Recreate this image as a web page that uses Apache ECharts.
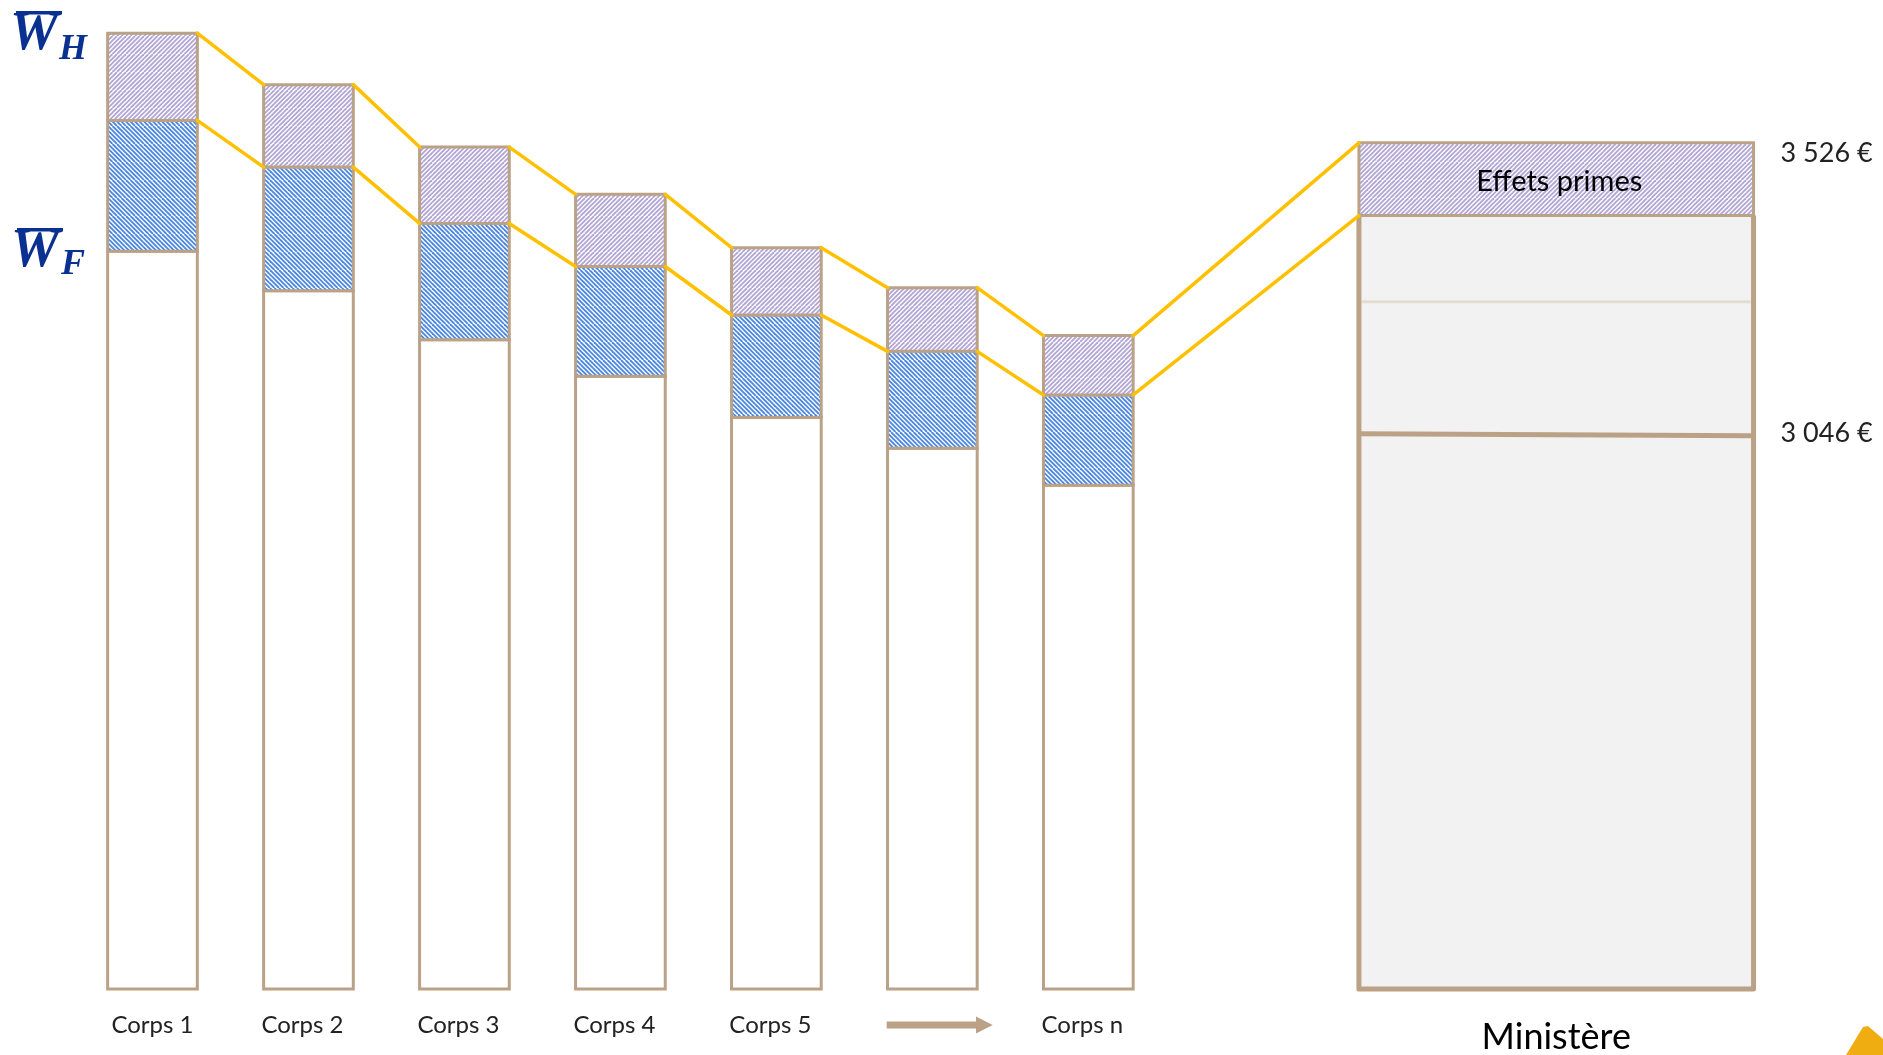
<!DOCTYPE html>
<html><head><meta charset="utf-8">
<script src="https://cdn.jsdelivr.net/npm/echarts@6/dist/echarts.min.js"></script>
<style>html,body{margin:0;padding:0;background:#fff}#c{width:1883px;height:1055px}</style>
</head><body><div id="c"></div>
<script>
// ---- Data ----
const categories = ['Corps 1','Corps 2','Corps 3','Corps 4','Corps 5','','Corps n','','','Ministère',''];
const corpsIndex = [0,1,2,3,4,5,6];
const salaireBase = [3347,3282,3201,3141,3073,3022,2961];   // haut de la partie blanche
const salaireWF   = [3563,3486,3393,3322,3242,3182,3110];   // haut de la partie bleue (W_F)
const salaireWH   = [3707,3622,3519,3441,3353,3287,3208];   // haut de la partie violette (W_H)
const ministereIndex = 9;
const ministereWH = 3526;
const ministereWF = 3406;
const ministereMilieu = 3264;
const ministereBase = 3046;
const arrowIndex = 5;
const valueLabels = [3526, 3046];
const yMin = 2130, yMax = 3760;

// ---- Styles ----
const TAN = '#BBA287';
const YELLOW = '#FFC000';
const NAVY = '#0A3191';
const FONT = 'Lato';
function hatch(color, up) {
  const n = 18, step = 4.5, c = document.createElement('canvas');
  c.width = c.height = n;
  const g = c.getContext('2d');
  g.fillStyle = '#ffffff'; g.fillRect(0,0,n,n);
  g.strokeStyle = color; g.lineWidth = 1.9;
  for (let k = -n; k <= 2*n; k += step) {
    g.beginPath();
    if (up) { g.moveTo(k, n); g.lineTo(k + n, 0); }
    else { g.moveTo(k, 0); g.lineTo(k + n, n); }
    g.stroke();
  }
  return {image: c, repeat: 'repeat'};
}
const purpleHatch = hatch('#B2A6D6', true);
const blueHatch = hatch('#4C88E2', false);

function fmtEuro(v) {
  return Math.floor(v/1000) + ' ' + String(v % 1000).padStart(3,'0') + ' €';
}

const chart = echarts.init(document.getElementById('c'), null, {renderer:'canvas'});

const corpsData = corpsIndex.map(i => [i, salaireBase[i], salaireWF[i], salaireWH[i]]);
const linkData = corpsIndex.map(i => {
  const last = i === corpsIndex.length - 1;
  return [i, salaireWH[i], salaireWF[i],
          last ? ministereIndex : i + 1,
          last ? ministereWH : salaireWH[i+1],
          last ? ministereWF : salaireWF[i+1]];
});

function renderCorps(params, api) {
  const i = api.value(0);
  const band = api.size([1,0])[0];
  const w = band * 0.575;
  const p0 = api.coord([i, yMin]);
  const x0 = p0[0] - w/2, yB = p0[1];
  const y1 = api.coord([i, api.value(1)])[1];
  const y2 = api.coord([i, api.value(2)])[1];
  const y3 = api.coord([i, api.value(3)])[1];
  const st = {stroke: TAN, lineWidth: 3};
  return {type:'group', children:[
    {type:'rect', shape:{x:x0, y:y1, width:w, height:yB-y1}, style:Object.assign({fill:'#fff'}, st)},
    {type:'rect', shape:{x:x0, y:y2, width:w, height:y1-y2}, style:Object.assign({fill:blueHatch}, st)},
    {type:'rect', shape:{x:x0, y:y3, width:w, height:y2-y3}, style:Object.assign({fill:purpleHatch}, st)}
  ]};
}

function halfWidth(idx, band) {
  return (idx === ministereIndex ? band*2.53 : band*0.575) / 2;
}

function renderLinks(params, api) {
  const band = api.size([1,0])[0];
  const a = api.value(0), b = api.value(3);
  const xa = api.coord([a, yMin])[0] + halfWidth(a, band);
  const xb = api.coord([b, yMin])[0] - halfWidth(b, band);
  const ls = {stroke: YELLOW, lineWidth: 3.5, lineCap:'round'};
  return {type:'group', children:[
    {type:'line', shape:{x1:xa, y1:api.coord([a, api.value(1)])[1], x2:xb, y2:api.coord([b, api.value(4)])[1]}, style:ls},
    {type:'line', shape:{x1:xa, y1:api.coord([a, api.value(2)])[1], x2:xb, y2:api.coord([b, api.value(5)])[1]}, style:ls}
  ]};
}

function renderMinistere(params, api) {
  const i = api.value(0);
  const band = api.size([1,0])[0];
  const w = band * 2.53;
  const p0 = api.coord([i, yMin]);
  const cx = p0[0], x0 = cx - w/2, x1 = cx + w/2, yB = p0[1];
  const yTop = api.coord([i, api.value(1)])[1];
  const yPr = api.coord([i, api.value(2)])[1];
  const yMid = api.coord([i, api.value(3)])[1];
  const yBase = api.coord([i, api.value(4)])[1];
  const children = [
    {type:'rect', shape:{x:x0, y:yPr, width:w, height:yB-yPr}, style:{fill:'#F2F2F2'}},
    {type:'line', shape:{x1:x0+3, y1:yMid, x2:x1-3, y2:yMid}, style:{stroke:'#E4DCD2', lineWidth:3}},
    {type:'line', shape:{x1:x0, y1:yBase, x2:x1, y2:yBase+2}, style:{stroke:TAN, lineWidth:5}},
    {type:'polyline', shape:{points:[[x0,yPr],[x0,yB],[x1,yB],[x1,yPr]]}, style:{stroke:TAN, lineWidth:5, fill:null, lineJoin:'round'}},
    {type:'rect', shape:{x:x0, y:yTop, width:w, height:yPr-yTop}, style:{fill:purpleHatch, stroke:TAN, lineWidth:3}},
    {type:'text', style:{text:'Effets primes', x:cx+3, y:(yTop+yPr)/2+2, align:'center', verticalAlign:'middle',
      font:'29px ' + FONT, fill:'#000'}}
  ];
  valueLabels.forEach((v, k) => {
    children.push({type:'text', style:{text: fmtEuro(v), x: x1 + 27, y: api.coord([i, v])[1] + (k === 0 ? 10 : 0),
      align:'left', verticalAlign:'middle', font:'27px ' + FONT, fill:'#222'}});
  });
  return {type:'group', children};
}

function renderArrow(params, api) {
  const i = api.value(0);
  const band = api.size([1,0])[0];
  const p = api.coord([i, yMin]);
  const xl = p[0] - band*0.293, xr = p[0] + band*0.387, xh = p[0] + band*0.28;
  const yc = p[1] + 36;
  return {type:'polygon', shape:{points:[[xl,yc-3.5],[xh,yc-3.5],[xh,yc-8.5],[xr,yc],[xh,yc+8.5],[xh,yc+3.5],[xl,yc+3.5]]},
    style:{fill:TAN}};
}

const xData = categories.map((c, i) => {
  if (i === ministereIndex) return {value:c, textStyle:{fontSize:36, lineHeight:36, color:'#000', padding:[6,0,0,0]}};
  if (i > 0) return {value:c, textStyle:{padding:[0,12,0,0]}};
  return {value:c};
});

const option = {
  animation:false,
  grid:{left:74.5, right:92.8, top:1, bottom:63, containLabel:false},
  xAxis:{type:'category', data:xData, axisLine:{show:false}, axisTick:{show:false}, splitLine:{show:false},
    axisLabel:{interval:0, margin:24, fontFamily:FONT, fontSize:24, lineHeight:24, color:'#222'}},
  yAxis:{type:'value', min:yMin, max:yMax, show:false},
  graphic:[
    {type:'rect', shape:{x:16, y:11, width:46, height:3.5}, style:{fill:NAVY}},
    {type:'text', style:{text:'W', x:10, y:35, verticalAlign:'middle', font:'italic bold 54px "Liberation Serif"', fill:NAVY}},
    {type:'text', style:{text:'H', x:59, y:50, verticalAlign:'middle', font:'italic bold 36px "Liberation Serif"', fill:NAVY}},
    {type:'rect', shape:{x:17, y:228, width:46, height:3.5}, style:{fill:NAVY}},
    {type:'text', style:{text:'W', x:11, y:252, verticalAlign:'middle', font:'italic bold 54px "Liberation Serif"', fill:NAVY}},
    {type:'text', style:{text:'F', x:61, y:265, verticalAlign:'middle', font:'italic bold 36px "Liberation Serif"', fill:NAVY}},
    {type:'polygon', shape:{points:[[1846,1055],[1863,1027],[1868,1026],[1883,1039],[1883,1055]]}, style:{fill:'#F0AD12'}}
  ],
  series:[
    {type:'custom', name:'Corps', renderItem:renderCorps, data:corpsData, clip:false, z:2},
    {type:'custom', name:'Liens', renderItem:renderLinks, data:linkData, clip:false, z:3},
    {type:'custom', name:'Ministère', renderItem:renderMinistere,
      data:[[ministereIndex, ministereWH, ministereWF, ministereMilieu, ministereBase]], clip:false, z:2},
    {type:'custom', name:'Flèche', renderItem:renderArrow, data:[[arrowIndex]], clip:false, z:2}
  ]
};
chart.setOption(option);
</script></body></html>
